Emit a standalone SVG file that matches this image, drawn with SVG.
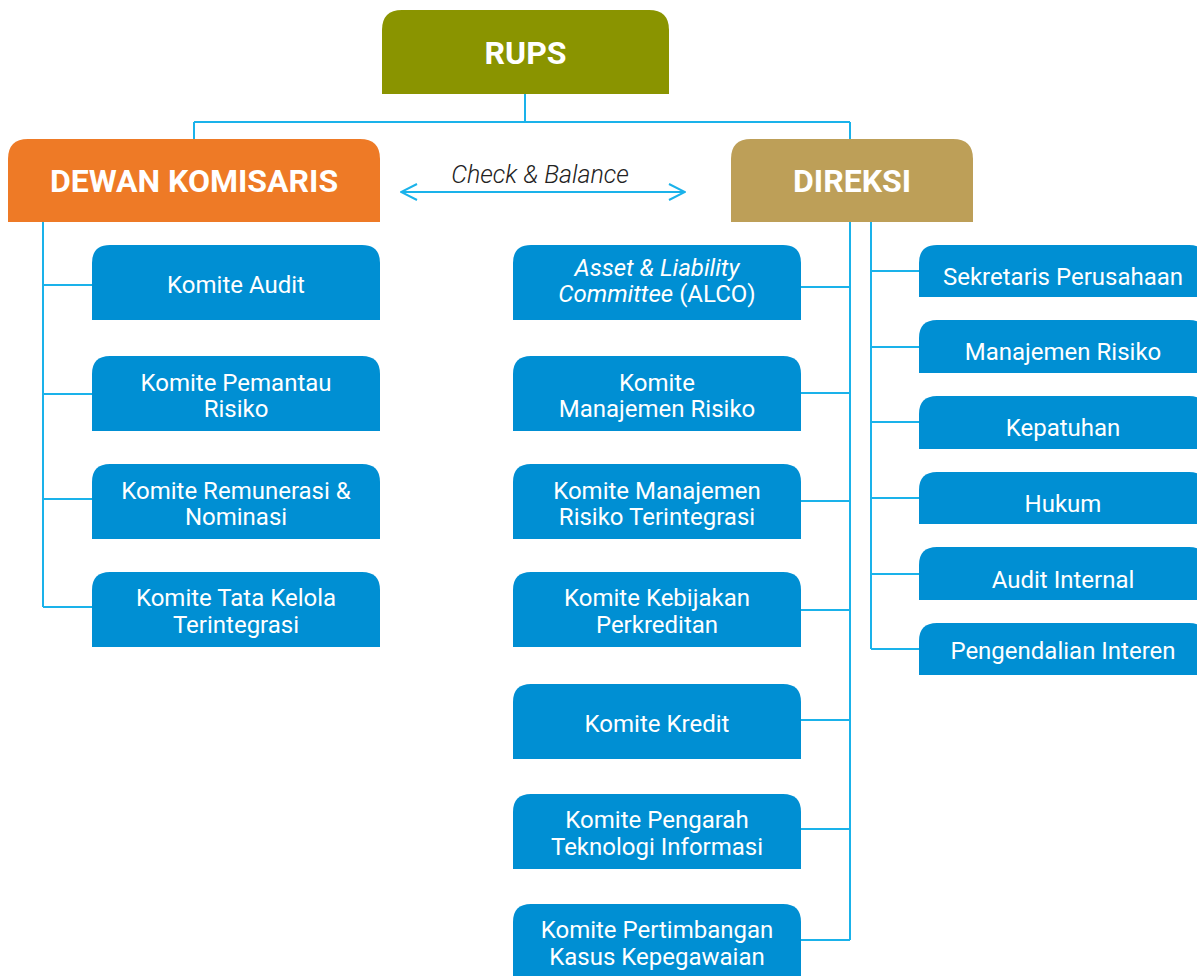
<svg xmlns="http://www.w3.org/2000/svg" width="1197" height="976" viewBox="0 0 1197 976">
<defs>
<style>
.box{fill:#008fd3}
.t{font-family:Roboto,"Liberation Sans",sans-serif;font-size:24px;font-weight:400;fill:#fff;text-anchor:middle}
.h{font-family:Roboto,"Liberation Sans",sans-serif;font-size:32px;font-weight:bold;fill:#fff;text-anchor:middle}
.ln{fill:none;stroke:#1ab2ea;stroke-width:2}
.cb{font-family:Roboto,"Liberation Sans",sans-serif;font-size:25px;font-style:italic;font-weight:300;fill:#222;text-anchor:middle}
</style>
<marker id="ah" viewBox="0 0 20 20" refX="19" refY="10" markerWidth="20" markerHeight="20" markerUnits="userSpaceOnUse" orient="auto-start-reverse">
<path d="M3,2 L19,10 L3,18" fill="none" stroke="#1ab2ea" stroke-width="2"/>
</marker>
</defs>
<rect width="1197" height="976" fill="#fff"/>
<g id="connectors">
<path class="ln" d="M525,94 V122 M194,122 H850 M194,122 V140 M850,122 V140"/>
<path class="ln" d="M43,222 V607 M43,285 H93 M43,394 H93 M43,499 H93 M43,607 H93"/>
<path class="ln" d="M850,222 V940 M800,287 H850 M800,393 H850 M800,501 H850 M800,610 H850 M800,720 H850 M800,829 H850 M800,940 H850"/>
<path class="ln" d="M871,222 V649 M871,271 H920 M871,347 H920 M871,422 H920 M871,498 H920 M871,574 H920 M871,649 H920"/>
<line class="ln" x1="401" y1="192" x2="685" y2="192" marker-start="url(#ah)" marker-end="url(#ah)"/>
<text class="cb" x="540" y="183">Check &amp; Balance</text>
</g>
<g id="rups">
<path d="M382,94 V30 Q382,10 402,10 H649 Q669,10 669,30 V94 Z" fill="#8a9400"/>
<text class="h" x="525.5" y="64">RUPS</text>
</g>
<g id="dewan-komisaris">
<path d="M8,222 V159 Q8,139 28,139 H360 Q380,139 380,159 V222 Z" fill="#ee7a26"/>
<text class="h" x="194" y="192">DEWAN KOMISARIS</text>
</g>
<g id="direksi">
<path d="M731,222 V159 Q731,139 751,139 H953 Q973,139 973,159 V222 Z" fill="#bd9f58"/>
<text class="h" x="852" y="192">DIREKSI</text>
</g>
<g id="komite-audit">
<path class="box" d="M92,320 V263 Q92,245 110,245 H362 Q380,245 380,263 V320 Z"/>
<text class="t" x="236" y="293">Komite Audit</text>
</g>
<g id="komite-pemantau-risiko">
<path class="box" d="M92,431 V374 Q92,356 110,356 H362 Q380,356 380,374 V431 Z"/>
<text class="t" x="236" y="391">Komite Pemantau</text>
<text class="t" x="236" y="417">Risiko</text>
</g>
<g id="komite-remunerasi">
<path class="box" d="M92,539 V482 Q92,464 110,464 H362 Q380,464 380,482 V539 Z"/>
<text class="t" x="236" y="499">Komite Remunerasi &amp;</text>
<text class="t" x="236" y="525">Nominasi</text>
</g>
<g id="komite-tata-kelola">
<path class="box" d="M92,647 V590 Q92,572 110,572 H362 Q380,572 380,590 V647 Z"/>
<text class="t" x="236" y="606">Komite Tata Kelola</text>
<text class="t" x="236" y="633">Terintegrasi</text>
</g>
<g id="alco">
<path class="box" d="M513,320 V263 Q513,245 531,245 H783 Q801,245 801,263 V320 Z"/>
<text class="t" x="657" y="276"><tspan font-style="italic">Asset &amp; Liability</tspan></text>
<text class="t" x="657" y="302"><tspan font-style="italic">Committee</tspan> (ALCO)</text>
</g>
<g id="komite-manajemen-risiko">
<path class="box" d="M513,431 V374 Q513,356 531,356 H783 Q801,356 801,374 V431 Z"/>
<text class="t" x="657" y="391">Komite</text>
<text class="t" x="657" y="417">Manajemen Risiko</text>
</g>
<g id="komite-mr-terintegrasi">
<path class="box" d="M513,539 V482 Q513,464 531,464 H783 Q801,464 801,482 V539 Z"/>
<text class="t" x="657" y="499">Komite Manajemen</text>
<text class="t" x="657" y="525">Risiko Terintegrasi</text>
</g>
<g id="komite-kebijakan-perkreditan">
<path class="box" d="M513,647 V590 Q513,572 531,572 H783 Q801,572 801,590 V647 Z"/>
<text class="t" x="657" y="606">Komite Kebijakan</text>
<text class="t" x="657" y="633">Perkreditan</text>
</g>
<g id="komite-kredit">
<path class="box" d="M513,759 V702 Q513,684 531,684 H783 Q801,684 801,702 V759 Z"/>
<text class="t" x="657" y="732">Komite Kredit</text>
</g>
<g id="komite-pengarah-ti">
<path class="box" d="M513,869 V812 Q513,794 531,794 H783 Q801,794 801,812 V869 Z"/>
<text class="t" x="657" y="828">Komite Pengarah</text>
<text class="t" x="657" y="855">Teknologi Informasi</text>
</g>
<g id="komite-pertimbangan">
<path class="box" d="M513,980 V922 Q513,904 531,904 H783 Q801,904 801,922 V980 Z"/>
<text class="t" x="657" y="938">Komite Pertimbangan</text>
<text class="t" x="657" y="965">Kasus Kepegawaian</text>
</g>
<g id="sekretaris-perusahaan">
<path class="box" d="M919,297 V263 Q919,245 937,245 H1189 Q1207,245 1207,263 V297 Z"/>
<text class="t" x="1063" y="285">Sekretaris Perusahaan</text>
</g>
<g id="manajemen-risiko">
<path class="box" d="M919,373 V338 Q919,320 937,320 H1189 Q1207,320 1207,338 V373 Z"/>
<text class="t" x="1063" y="360">Manajemen Risiko</text>
</g>
<g id="kepatuhan">
<path class="box" d="M919,449 V414 Q919,396 937,396 H1189 Q1207,396 1207,414 V449 Z"/>
<text class="t" x="1063" y="436">Kepatuhan</text>
</g>
<g id="hukum">
<path class="box" d="M919,524 V490 Q919,472 937,472 H1189 Q1207,472 1207,490 V524 Z"/>
<text class="t" x="1063" y="512">Hukum</text>
</g>
<g id="audit-internal">
<path class="box" d="M919,600 V565 Q919,547 937,547 H1189 Q1207,547 1207,565 V600 Z"/>
<text class="t" x="1063" y="588">Audit Internal</text>
</g>
<g id="pengendalian-interen">
<path class="box" d="M919,675 V641 Q919,623 937,623 H1189 Q1207,623 1207,641 V675 Z"/>
<text class="t" x="1063" y="659">Pengendalian Interen</text>
</g>
</svg>
